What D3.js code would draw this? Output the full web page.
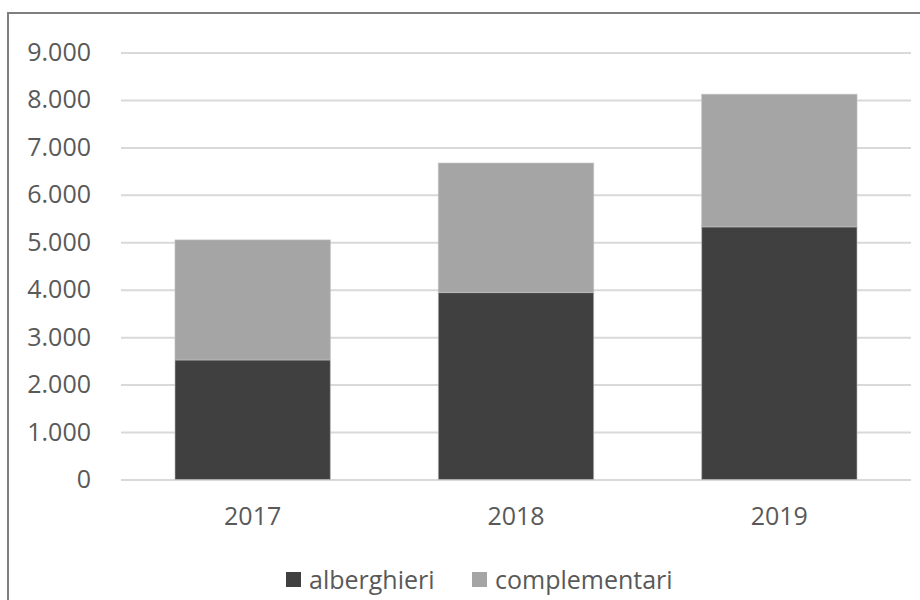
<!DOCTYPE html>
<html>
<head>
<meta charset="utf-8">
<script src="https://cdn.jsdelivr.net/npm/d3@7"></script>
<style>
    body { margin: 0; background: #fff; }
    svg text { font-family: "Open Sans", "Noto Sans", sans-serif; fill: #595959; }
</style>
</head>
<body>
<svg id="chart" width="920" height="600"></svg>
<script>
// ====================================
// Dati
// ====================================
const anni = ["2017", "2018", "2019"];
const alberghieri = [2520, 3940, 5325];
const complementari = [2530, 2730, 2795];
const serie = ["alberghieri", "complementari"];
const colori = ["#404040", "#a5a5a5"];
const yTicks = [0, 1000, 2000, 3000, 4000, 5000, 6000, 7000, 8000, 9000];

const svg = d3.select("#chart");

// cornice grigia
svg.append("rect")
    .attr("x", 8)
    .attr("y", 13)
    .attr("width", 930)
    .attr("height", 600)
    .attr("fill", "none")
    .attr("stroke", "#7f7f7f")
    .attr("stroke-width", 2);

const x = d3.scaleBand()
    .domain(anni)
    .range([121, 911])
    .paddingInner(0.41)
    .paddingOuter(0.205);

const y = d3.scaleLinear()
    .domain([0, 9000])
    .range([479.5, 52.5]);

const fmt = d3.formatLocale({ decimal: ",", thousands: ".", grouping: [3], currency: ["€", ""] }).format(",d");

// griglia + etichette asse y
const yAxis = svg.append("g")
    .attr("transform", "translate(121,0)")
    .call(d3.axisLeft(y).tickValues(yTicks).tickFormat(fmt).tickSize(-790).tickPadding(30));

yAxis.select(".domain").remove();
yAxis.selectAll(".tick line")
    .attr("stroke", "#d9d9d9")
    .attr("stroke-width", 2);
yAxis.selectAll(".tick text")
    .style("font-size", "25px")
    .attr("fill", "#595959");

// barre impilate
const righe = anni.map((a, i) => ({ anno: a, alberghieri: alberghieri[i], complementari: complementari[i] }));
const stack = d3.stack().keys(serie)(righe);

svg.append("g")
    .selectAll("g")
    .data(stack)
    .join("g")
    .attr("fill", (d, i) => colori[i])
    .selectAll("rect")
    .data(d => d)
    .join("rect")
    .attr("x", d => x(d.data.anno))
    .attr("y", d => y(d[1]))
    .attr("width", x.bandwidth())
    .attr("height", d => y(d[0]) - y(d[1]))
    .attr("stroke", "#bfbfbf")
    .attr("stroke-opacity", 0.6)
    .attr("stroke-width", 1);

// asse x
const xAxis = svg.append("g")
    .attr("transform", "translate(0,479.5)")
    .call(d3.axisBottom(x).tickSize(0).tickPadding(28));

xAxis.select(".domain").remove();
xAxis.selectAll(".tick text")
    .style("font-size", "25px")
    .attr("fill", "#595959");

// legenda
const legendX = [286, 472];
const legenda = svg.append("g")
    .selectAll("g")
    .data(serie)
    .join("g")
    .attr("transform", (d, i) => `translate(${legendX[i]},572)`);

legenda.append("rect")
    .attr("width", 15)
    .attr("height", 15)
    .attr("fill", (d, i) => colori[i]);

legenda.append("text")
    .attr("x", 23)
    .attr("y", 8)
    .attr("dy", "0.35em")
    .style("font-size", "25px")
    .text(d => d);
</script>
</body>
</html>
